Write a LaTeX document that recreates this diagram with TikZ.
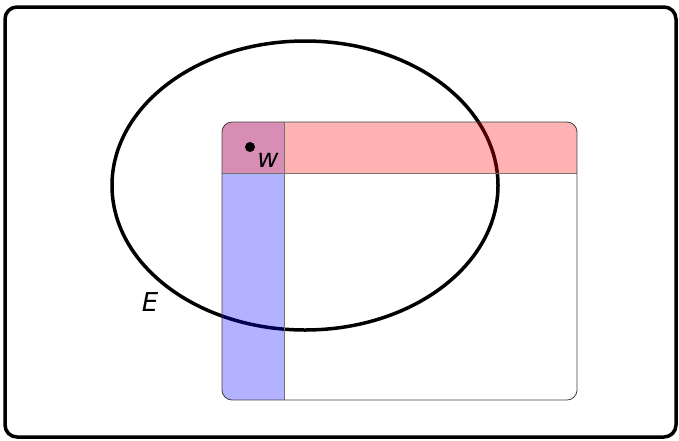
\documentclass[tikz,border=0pt]{standalone}
\usepackage{fontspec}
\setmainfont{DejaVu Sans}
\definecolor{overlapc}{RGB}{216,142,180}
\begin{document}
\begin{tikzpicture}[x=1pt,y=-1pt,
  frame/.style={draw=black,line width=3.5pt,rounded corners=12pt},
  panel/.style={draw=black!75,line width=0.8pt,rounded corners=10pt},
  setline/.style={draw=black,line width=3.5pt},
  lbl/.style={font=\fontsize{26}{26}\selectfont\itshape,inner sep=0pt}]
\useasboundingbox (0,0) rectangle (679,440);
\node[frame,minimum width=671pt,minimum height=430pt,inner sep=0pt] (outer) at (340.5,222) {};
\draw[setline] (305,185.5) ellipse [x radius=193, y radius=144.5];
\node[lbl] (E) at (150,302) {E};
\begin{scope}
  \clip[rounded corners=10pt] (222,122) rectangle (577,400);
  \fill[blue,fill opacity=0.3] (222,173) rectangle (284,400);
  \fill[red,fill opacity=0.3] (284,122) rectangle (577,173);
  \fill[overlapc] (222,122) rectangle (284,173);
  \draw[black!55,line width=0.6pt] (222,173) -- (577,173);
  \draw[black!55,line width=0.6pt] (284,122) -- (284,400);
\end{scope}
\node[panel,minimum width=355pt,minimum height=278pt,inner sep=0pt] (panel) at (399.5,261) {};
\fill[black] (250,147) circle (5) coordinate (wdot);
\node[lbl] (w) at (268,160) {w};
\end{tikzpicture}
\end{document}
